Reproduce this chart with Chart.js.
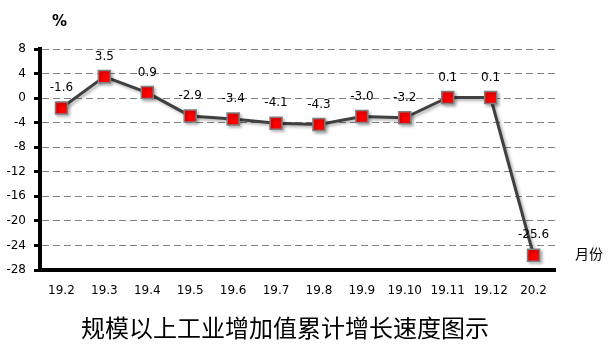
<!DOCTYPE html>
<html>
<head>
<meta charset="utf-8">
<script src="https://cdn.jsdelivr.net/npm/chart.js@4.4.0/dist/chart.umd.min.js"></script>
<style>
  html, body { margin: 0; padding: 0; background: #fff; }
  #wrap { width: 612px; height: 354px; position: relative; }
</style>
</head>
<body>
<div id="wrap"><canvas id="growthChart" width="612" height="354"></canvas></div>
<script>
const months = ['19.2', '19.3', '19.4', '19.5', '19.6', '19.7', '19.8', '19.9', '19.10', '19.11', '19.12', '20.2'];
const growth = [-1.6, 3.5, 0.9, -2.9, -3.4, -4.1, -4.3, -3.0, -3.2, 0.1, 0.1, -25.6];
const yTicks = [8, 4, 0, -4, -8, -12, -16, -20, -24, -28];
const chartTitle = '规模以上工业增加值累计增长速度图示';
const unitLabel = '%';
const xUnitLabel = '月份';

const numFont = '"DejaVu Sans", sans-serif';
const cjkFont = '"Noto Sans CJK SC", sans-serif';

// shadow under the line and markers
const shadowPlugin = {
	id: 'shadow',
	beforeDatasetDraw: (chart) => {
		const ctx = chart.ctx;
		ctx.save();
		ctx.shadowColor = 'rgba(0,0,0,0.3)';
		ctx.shadowBlur = 3;
		ctx.shadowOffsetX = 2;
		ctx.shadowOffsetY = 2;
	},
	afterDatasetDraw: (chart) => {
		chart.ctx.restore();
	},
};

// value labels + free texts
const textPlugin = {
	id: 'texts',
	afterDraw: (chart) => {
		const ctx = chart.ctx;
		const meta = chart.getDatasetMeta(0);
		ctx.save();
		ctx.fillStyle = '#000';
		ctx.font = '12px ' + numFont;
		ctx.textAlign = 'center';
		ctx.textBaseline = 'middle';
		meta.data.forEach((pt, i) => {
			ctx.fillText(growth[i].toFixed(1), pt.x, pt.y - 20);
		});

		ctx.font = 'bold 15px ' + numFont;
		ctx.textAlign = 'left';
		ctx.fillText(unitLabel, 52, 22);

		ctx.font = '14px ' + cjkFont;
		ctx.fillText(xUnitLabel, 575, 254);

		ctx.font = '24px ' + cjkFont;
		ctx.textAlign = 'center';
		ctx.fillText(chartTitle, 285, 328);
		ctx.restore();
	},
};

const config = {
	type: 'line',
	data: {
		labels: months,
		datasets: [
			{
				data: growth,
				borderColor: '#404040',
				borderWidth: 3,
				tension: 0,
				pointStyle: 'rect',
				pointRadius: 8.5,
				pointHoverRadius: 8.5,
				pointBackgroundColor: '#ff0000',
				pointBorderColor: '#7f7f7f',
				pointBorderWidth: 1.5,
			},
		],
	},
	options: {
		responsive: false,
		animation: false,
		events: [],
		layout: { padding: { left: 0, right: 57, top: 49, bottom: 0 } },
		plugins: {
			legend: { display: false },
			tooltip: { enabled: false },
		},
		scales: {
			x: {
				offset: true,
				grid: { display: false, drawTicks: false },
				border: { display: true, color: '#000', width: 4 },
				ticks: {
					color: '#000',
					font: { family: numFont, size: 12 },
					padding: 14,
					maxRotation: 0,
					autoSkip: false,
				},
				afterFit: (scale) => { scale.height = 84; },
			},
			y: {
				min: -28,
				max: 8,
				afterBuildTicks: (scale) => {
					scale.ticks = yTicks.map((v) => ({ value: v }));
				},
				grid: {
					color: (c) => (c.tick && c.tick.value === -28 ? 'rgba(0,0,0,0)' : '#808080'),
					lineWidth: 1,
					tickColor: '#000',
					tickLength: 6,
					tickWidth: 3,
				},
				border: { display: true, color: '#000', width: 4, dash: [7, 4] },
				ticks: {
					color: '#000',
					font: { family: numFont, size: 12 },
					padding: 8,
				},
				afterFit: (scale) => { scale.width = 40; },
			},
		},
	},
	plugins: [shadowPlugin, textPlugin],
};

const ctx = document.getElementById('growthChart').getContext('2d');
const myChart = new Chart(ctx, config);
</script>
</body>
</html>
